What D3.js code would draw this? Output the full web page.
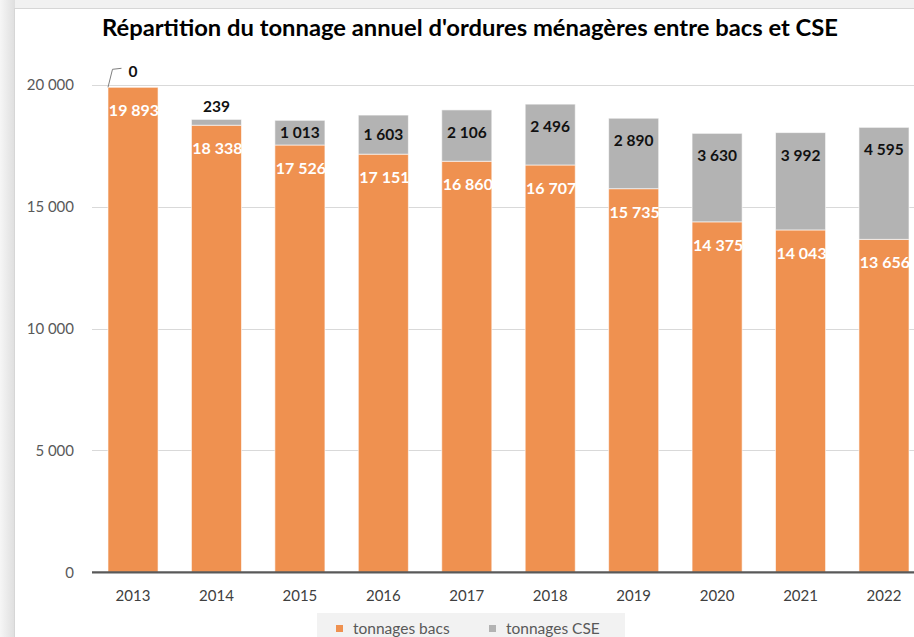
<!DOCTYPE html>
<html><head><meta charset="utf-8">
<script src="https://cdn.jsdelivr.net/npm/d3@7"></script>
<style>
html,body{margin:0;padding:0;width:914px;height:637px;overflow:hidden;background:#ececec;}
</style></head>
<body>
<script>
const years = ["2013","2014","2015","2016","2017","2018","2019","2020","2021","2022"];
const bacs = [19893,18338,17526,17151,16860,16707,15735,14375,14043,13656];
const cse  = [0,239,1013,1603,2106,2496,2890,3630,3992,4595];
const yTicks = [0,5000,10000,15000,20000];
const seriesNames = ["tonnages bacs","tonnages CSE"];
const title = "Répartition du tonnage annuel d'ordures ménagères entre bacs et CSE";

const W=914,H=637;
const colBacs="#ef9150", colCse="#b3b3b3";
const fmt = v => d3.format(",")(v).replace(/,/g,"\u202f");
const fmtLbl = v => d3.format(",")(v).replace(/,/g," ");

const svg=d3.select("body").append("svg").attr("width",W).attr("height",H)
  .style("font-family","Lato, 'Open Sans', sans-serif");

// background frame
const defs=svg.append("defs");
const lg=defs.append("linearGradient").attr("id","lg").attr("x1","0").attr("x2","1");
lg.append("stop").attr("offset","0").attr("stop-color","#f6f6f6");
lg.append("stop").attr("offset","1").attr("stop-color","#dedede");
svg.append("rect").attr("x",0).attr("y",0).attr("width",W).attr("height",H).attr("fill","#f1f1f1");
svg.append("rect").attr("x",0).attr("y",0).attr("width",15).attr("height",H).attr("fill","url(#lg)");
svg.append("rect").attr("x",14.5).attr("y",8.5).attr("width",W).attr("height",H)
  .attr("fill","#fff").attr("stroke","#d6d6d6");

const x=d3.scaleBand().domain(years).range([91.3,925.7]).paddingInner(0.4).paddingOuter(0.2);
const y=d3.scaleLinear().domain([0,20000]).range([572.3,84.7]);

// gridlines
svg.append("g").selectAll("line").data(yTicks.filter(t=>t>0)).join("line")
  .attr("x1",92).attr("x2",W).attr("y1",d=>Math.round(y(d))+0.5).attr("y2",d=>Math.round(y(d))+0.5)
  .attr("stroke","#d9d9d9").attr("stroke-width",1);

// y axis labels
const yAxis=d3.axisLeft(y).tickValues(yTicks).tickFormat(fmt).tickSize(0).tickPadding(0);
const yg=svg.append("g").attr("transform","translate(74,0)").call(yAxis);
yg.select(".domain").remove();
yg.selectAll("text").attr("fill","#595959").style("font-size","15px").style("font-family","Lato, sans-serif");

// bars
const data=years.map((yr,i)=>({yr,b:bacs[i],c:cse[i]}));
const g=svg.append("g");
g.selectAll(".bb").data(data).join("rect")
  .attr("x",d=>x(d.yr)).attr("width",x.bandwidth())
  .attr("y",d=>y(d.b)).attr("height",d=>y(0)-y(d.b))
  .attr("fill",colBacs).attr("stroke","#fff").attr("stroke-opacity",0.6).attr("stroke-width",1);
g.selectAll(".bc").data(data.filter(d=>d.c>0)).join("rect")
  .attr("x",d=>x(d.yr)).attr("width",x.bandwidth())
  .attr("y",d=>y(d.b+d.c)).attr("height",d=>y(d.b)-y(d.b+d.c))
  .attr("fill",colCse).attr("stroke","#fff").attr("stroke-opacity",0.6).attr("stroke-width",1);

// zero axis
svg.append("line").attr("x1",92).attr("x2",W).attr("y1",y(0)).attr("y2",y(0))
  .attr("stroke","#595959").attr("stroke-width",2.2);

// x axis labels
const xAxis=d3.axisBottom(x).tickSize(0).tickPadding(0);
const xg=svg.append("g").attr("transform","translate(0,590)").call(xAxis);
xg.select(".domain").remove();
xg.selectAll("text").attr("fill","#404040").style("font-size","15px").style("font-family","Lato, sans-serif");

// value labels bacs
svg.append("g").selectAll("text").data(data).join("text")
  .attr("x",d=>x(d.yr)+x.bandwidth()/2+1).attr("y",d=>y(d.b)+22.5)
  .attr("text-anchor","middle").attr("dominant-baseline","central")
  .attr("fill","#fff").style("font-weight","700").style("font-size","16px")
  .text(d=>fmtLbl(d.b));

// value labels cse
svg.append("g").selectAll("text").data(data).join("text")
  .attr("x",d=>x(d.yr)+x.bandwidth()/2)
  .attr("y",d=>{
    const top=y(d.b+d.c), h=y(d.b)-top;
    if(d.c===0) return top-16.5;
    if(h<15) return top-13.5;
    return top+Math.min(22,h/2-1);
  })
  .attr("text-anchor","middle").attr("dominant-baseline","central")
  .attr("fill","#111").style("font-weight","700").style("font-size","15.5px")
  .text(d=>fmtLbl(d.c));

// leader line for zero value
data.filter(d=>d.c===0).forEach(d=>{
  const x0=x(d.yr), t=y(d.b+d.c);
  svg.append("path").attr("d",`M${x0},${t} L${x0+4.5},${t-18} L${x0+13.5},${t-19}`)
    .attr("fill","none").attr("stroke","#7f7f7f").attr("stroke-width",1);
});

// title
svg.append("text").attr("x",470).attr("y",27).attr("text-anchor","middle").attr("dominant-baseline","central")
  .style("font-weight","700").style("font-size","22px").attr("fill","#000")
  .attr("textLength",736).attr("lengthAdjust","spacingAndGlyphs").text(title);

// legend
const leg=svg.append("g");
leg.append("rect").attr("x",317).attr("y",613).attr("width",308).attr("height",30).attr("fill","#f2f2f2");
const items=[{n:seriesNames[0],c:colBacs,x:336},{n:seriesNames[1],c:colCse,x:489}];
items.forEach(it=>{
  leg.append("rect").attr("x",it.x).attr("y",625).attr("width",7).attr("height",7).attr("fill",it.c);
  leg.append("text").attr("x",it.x+17).attr("y",628).attr("dominant-baseline","central")
    .attr("fill","#595959").style("font-size","15.5px").text(it.n);
});
</script>
</body></html>
